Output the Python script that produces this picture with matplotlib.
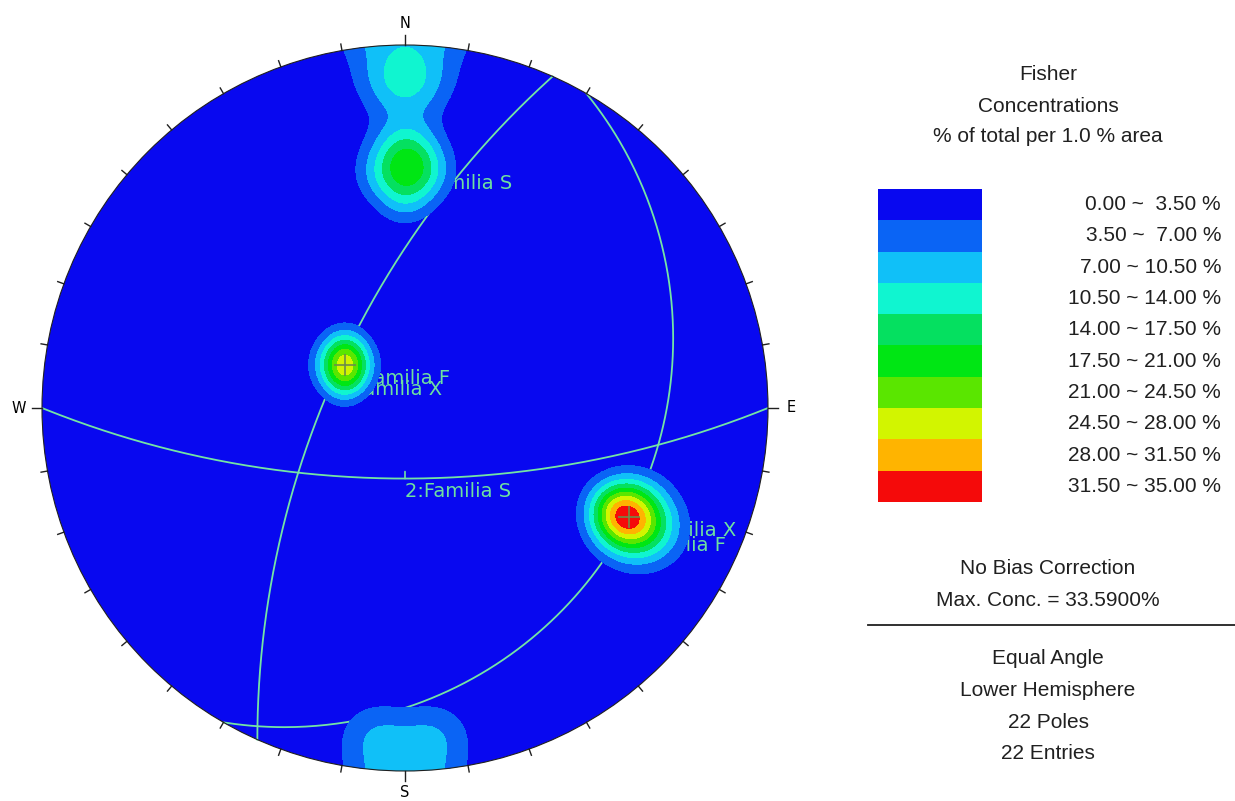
"""
Fisher pole concentration stereonet (equal angle, lower hemisphere).
"""

import numpy as np
import matplotlib
matplotlib.use('Agg')
import matplotlib.pyplot as plt
from matplotlib.patches import Circle

W_PX, H_PX = 1235, 801

# poles as (trend, plunge) in degrees
fam_s_trend = [0, 0, 355, 5, 1]
fam_s_plunge = [18, 30, 24, 24, 22]
fam_f_trend = [315.9, 291.8, 311.5, 298.6, 312.45, 300.4]
fam_f_plunge = [63.3, 69.85, 65.15, 68.7, 70.2, 63.8]
fam_x_trend = [116, 116, 112.5, 119, 113.5, 118.5, 117]
fam_x_plunge = [15.5, 26, 20, 22, 23.5, 18, 22.5]
loose_trend = [357.5, 2.5, 175, 185]
loose_plunge = [5.5, 5.5, 5, 5]

pole_names = ['Familia S', 'Familia F', 'Familia X']
pole_marked = [False, True, True]

# mean planes (dip direction, dip)
plane_names = ['1:Familia X', '2:Familia S', '3:Familia F']
plane_dipdir = [294, 180, 120]
plane_dip = [66, 68, 21]

fisher_k = 150
max_conc = 33.59

levels = [0, 3.5, 7, 10.5, 14, 17.5, 21, 24.5, 28, 31.5, 35]
level_colors = ['#0808f0', '#0a64f5', '#10c0f8', '#10f5d0', '#05e060',
                '#00e614', '#5ae600', '#d2f500', '#ffb400', '#f50a0a']

side_lines = ['Fisher', 'Concentrations', '% of total per 1.0 % area']
info_top = ['No Bias Correction', f'Max. Conc. = {max_conc:.4f}%']
info_bottom = ['Equal Angle', 'Lower Hemisphere', '22 Poles', '22 Entries']

LINE_COLOR = '#74e4a4'
TEXT_COLOR = '#6ee0a0'


def to_xyz(trend, plunge):
    tr = np.radians(trend)
    pl = np.radians(plunge)
    return np.cos(pl) * np.cos(tr), np.cos(pl) * np.sin(tr), np.sin(pl)


def project(n, e, d):
    """Equal angle projection of lower hemisphere vectors"""
    n, e, d = np.asarray(n, float), np.asarray(e, float), np.asarray(d, float)
    flip = d < 0
    n, e, d = np.where(flip, -n, n), np.where(flip, -e, e), np.where(flip, -d, d)
    pl = np.arcsin(np.clip(d, -1, 1))
    tr = np.arctan2(e, n)
    r = np.tan((np.pi / 2 - pl) / 2)
    return r * np.sin(tr), r * np.cos(tr)


def px(x, y):
    return x / W_PX, 1 - y / H_PX


families = [(fam_s_trend, fam_s_plunge), (fam_f_trend, fam_f_plunge),
            (fam_x_trend, fam_x_plunge)]
all_trend = np.array(fam_s_trend + fam_f_trend + fam_x_trend + loose_trend, float)
all_plunge = np.array(fam_s_plunge + fam_f_plunge + fam_x_plunge + loose_plunge, float)
pn, pe, pd = to_xyz(all_trend, all_plunge)

# density grid
g = np.linspace(-1.03, 1.03, 601)
GX, GY = np.meshgrid(g, g)
rr = np.hypot(GX, GY)
gpl = np.pi / 2 - 2 * np.arctan(rr)
gtr = np.arctan2(GX, GY)
gn, ge, gd = np.cos(gpl) * np.cos(gtr), np.cos(gpl) * np.sin(gtr), np.sin(gpl)
dens = np.zeros_like(GX)
for a, b, c in zip(pn, pe, pd):
    cosang = np.abs(gn * a + ge * b + gd * c)
    dens += np.exp(fisher_k * (cosang - 1))
dens *= fisher_k / len(all_trend)
print('max density', dens.max())

fig = plt.figure(figsize=(W_PX / 100, H_PX / 100), dpi=100)
cx, cy, R = 405, 408, 363
ax = fig.add_axes([(cx - R) / W_PX, (H_PX - cy - R) / H_PX, 2 * R / W_PX, 2 * R / H_PX])
ax.set_xlim(-1, 1)
ax.set_ylim(-1, 1)
ax.axis('off')

clip = Circle((0, 0), 1, transform=ax.transData)
cs_all = ax.contourf(GX, GY, dens, levels=levels, colors=level_colors,
                     extend='max', zorder=1)
cs_all.set_clip_path(clip)

# great circles and their labels
t = np.linspace(0, np.pi, 400)
for name, dd, dip in zip(plane_names, plane_dipdir, plane_dip):
    sn, se, sd = to_xyz(dd - 90, 0)
    dn, de, ddn = to_xyz(dd, dip)
    x, y = project(np.cos(t) * sn + np.sin(t) * dn,
                   np.cos(t) * se + np.sin(t) * de,
                   np.cos(t) * sd + np.sin(t) * ddn)
    ax.plot(x, y, color=LINE_COLOR, lw=1.3, zorder=2)
    mx, my = project(dn, de, ddn)
    ax.annotate('', xy=(mx, my), xytext=(0, 7), textcoords='offset pixels',
                arrowprops=dict(arrowstyle='-', color=LINE_COLOR, lw=1.2, shrinkA=0, shrinkB=0),
                zorder=2)
    ax.annotate(name, xy=(mx, my), xytext=(0, -13), textcoords='offset pixels',
                color=TEXT_COLOR, fontsize=14, ha='left', va='center', zorder=2)

cs_top = ax.contourf(GX, GY, dens, levels=levels[1:], colors=level_colors[1:],
                     extend='max', zorder=3)
cs_top.set_clip_path(clip)

# mean pole markers and labels
for name, marked, (ftr, fpl) in zip(pole_names, pole_marked, families):
    fn, fe, fd = to_xyz(np.array(ftr, float), np.array(fpl, float))
    mvec = np.array([fn.sum(), fe.sum(), fd.sum()])
    mvec /= np.linalg.norm(mvec)
    mx, my = project(*mvec)
    if marked:
        ax.plot(mx, my, marker='+', ms=16, mew=1.2, color='#6c8c4c', zorder=4)
    ax.annotate(name, xy=(mx, my), xytext=(19, -13), textcoords='offset pixels',
                color=TEXT_COLOR, fontsize=14, ha='left', va='center', zorder=2)

# primitive circle, ticks, cardinal letters
ax.add_patch(Circle((0, 0), 1, fc='none', ec='#202020', lw=0.8, zorder=5, clip_on=False))
for az in range(0, 360, 10):
    s, c = np.sin(np.radians(az)), np.cos(np.radians(az))
    ln = 0.028 if az % 90 == 0 else 0.018
    ax.plot([s, s * (1 + ln)], [c, c * (1 + ln)], color='#202020', lw=1.0,
            clip_on=False, zorder=5)
for lab, az in zip(['N', 'E', 'S', 'W'], [0, 90, 180, 270]):
    s, c = np.sin(np.radians(az)), np.cos(np.radians(az))
    ax.text(s * 1.065, c * 1.06, lab, ha='center', va='center', fontsize=10.5,
            family='DejaVu Sans', zorder=5)

# side legend
legend_font = 'Liberation Sans'
for i, txt in enumerate(side_lines):
    fig.text(*px(1048, 75 + i * 31), txt, ha='center', va='center', fontsize=15,
             family=legend_font, color='#202020')

cax = fig.add_axes([878 / W_PX, 1 - 502 / H_PX, 104 / W_PX, 313 / H_PX])
cb = fig.colorbar(cs_all, cax=cax, extendfrac=0)
cb.outline.set_visible(False)
cax.set_ylim(levels[0], levels[-1])
cax.invert_yaxis()
cax.set_yticks([])
band_h = 313 / (len(levels) - 1)
for i in range(len(levels) - 1):
    lab = f'{levels[i]:.2f} ~ {levels[i + 1]:5.2f} %'
    fig.text(*px(1221, 189 + (i + 0.5) * band_h), lab, ha='right', va='center',
             fontsize=15, family=legend_font, color='#202020')

for i, txt in enumerate(info_top):
    fig.text(*px(1048, 568 + i * 33), txt, ha='center', va='center', fontsize=15,
             family=legend_font, color='#202020')
fig.add_artist(plt.Line2D([868 / W_PX, 1235 / W_PX], [1 - 625 / H_PX] * 2,
                          color='#202020', lw=1.3))
for i, txt in enumerate(info_bottom):
    fig.text(*px(1048, 659 + i * 31.5), txt, ha='center', va='center', fontsize=15,
             family=legend_font, color='#202020')

fig.savefig('out.png', dpi=100, facecolor='white')
